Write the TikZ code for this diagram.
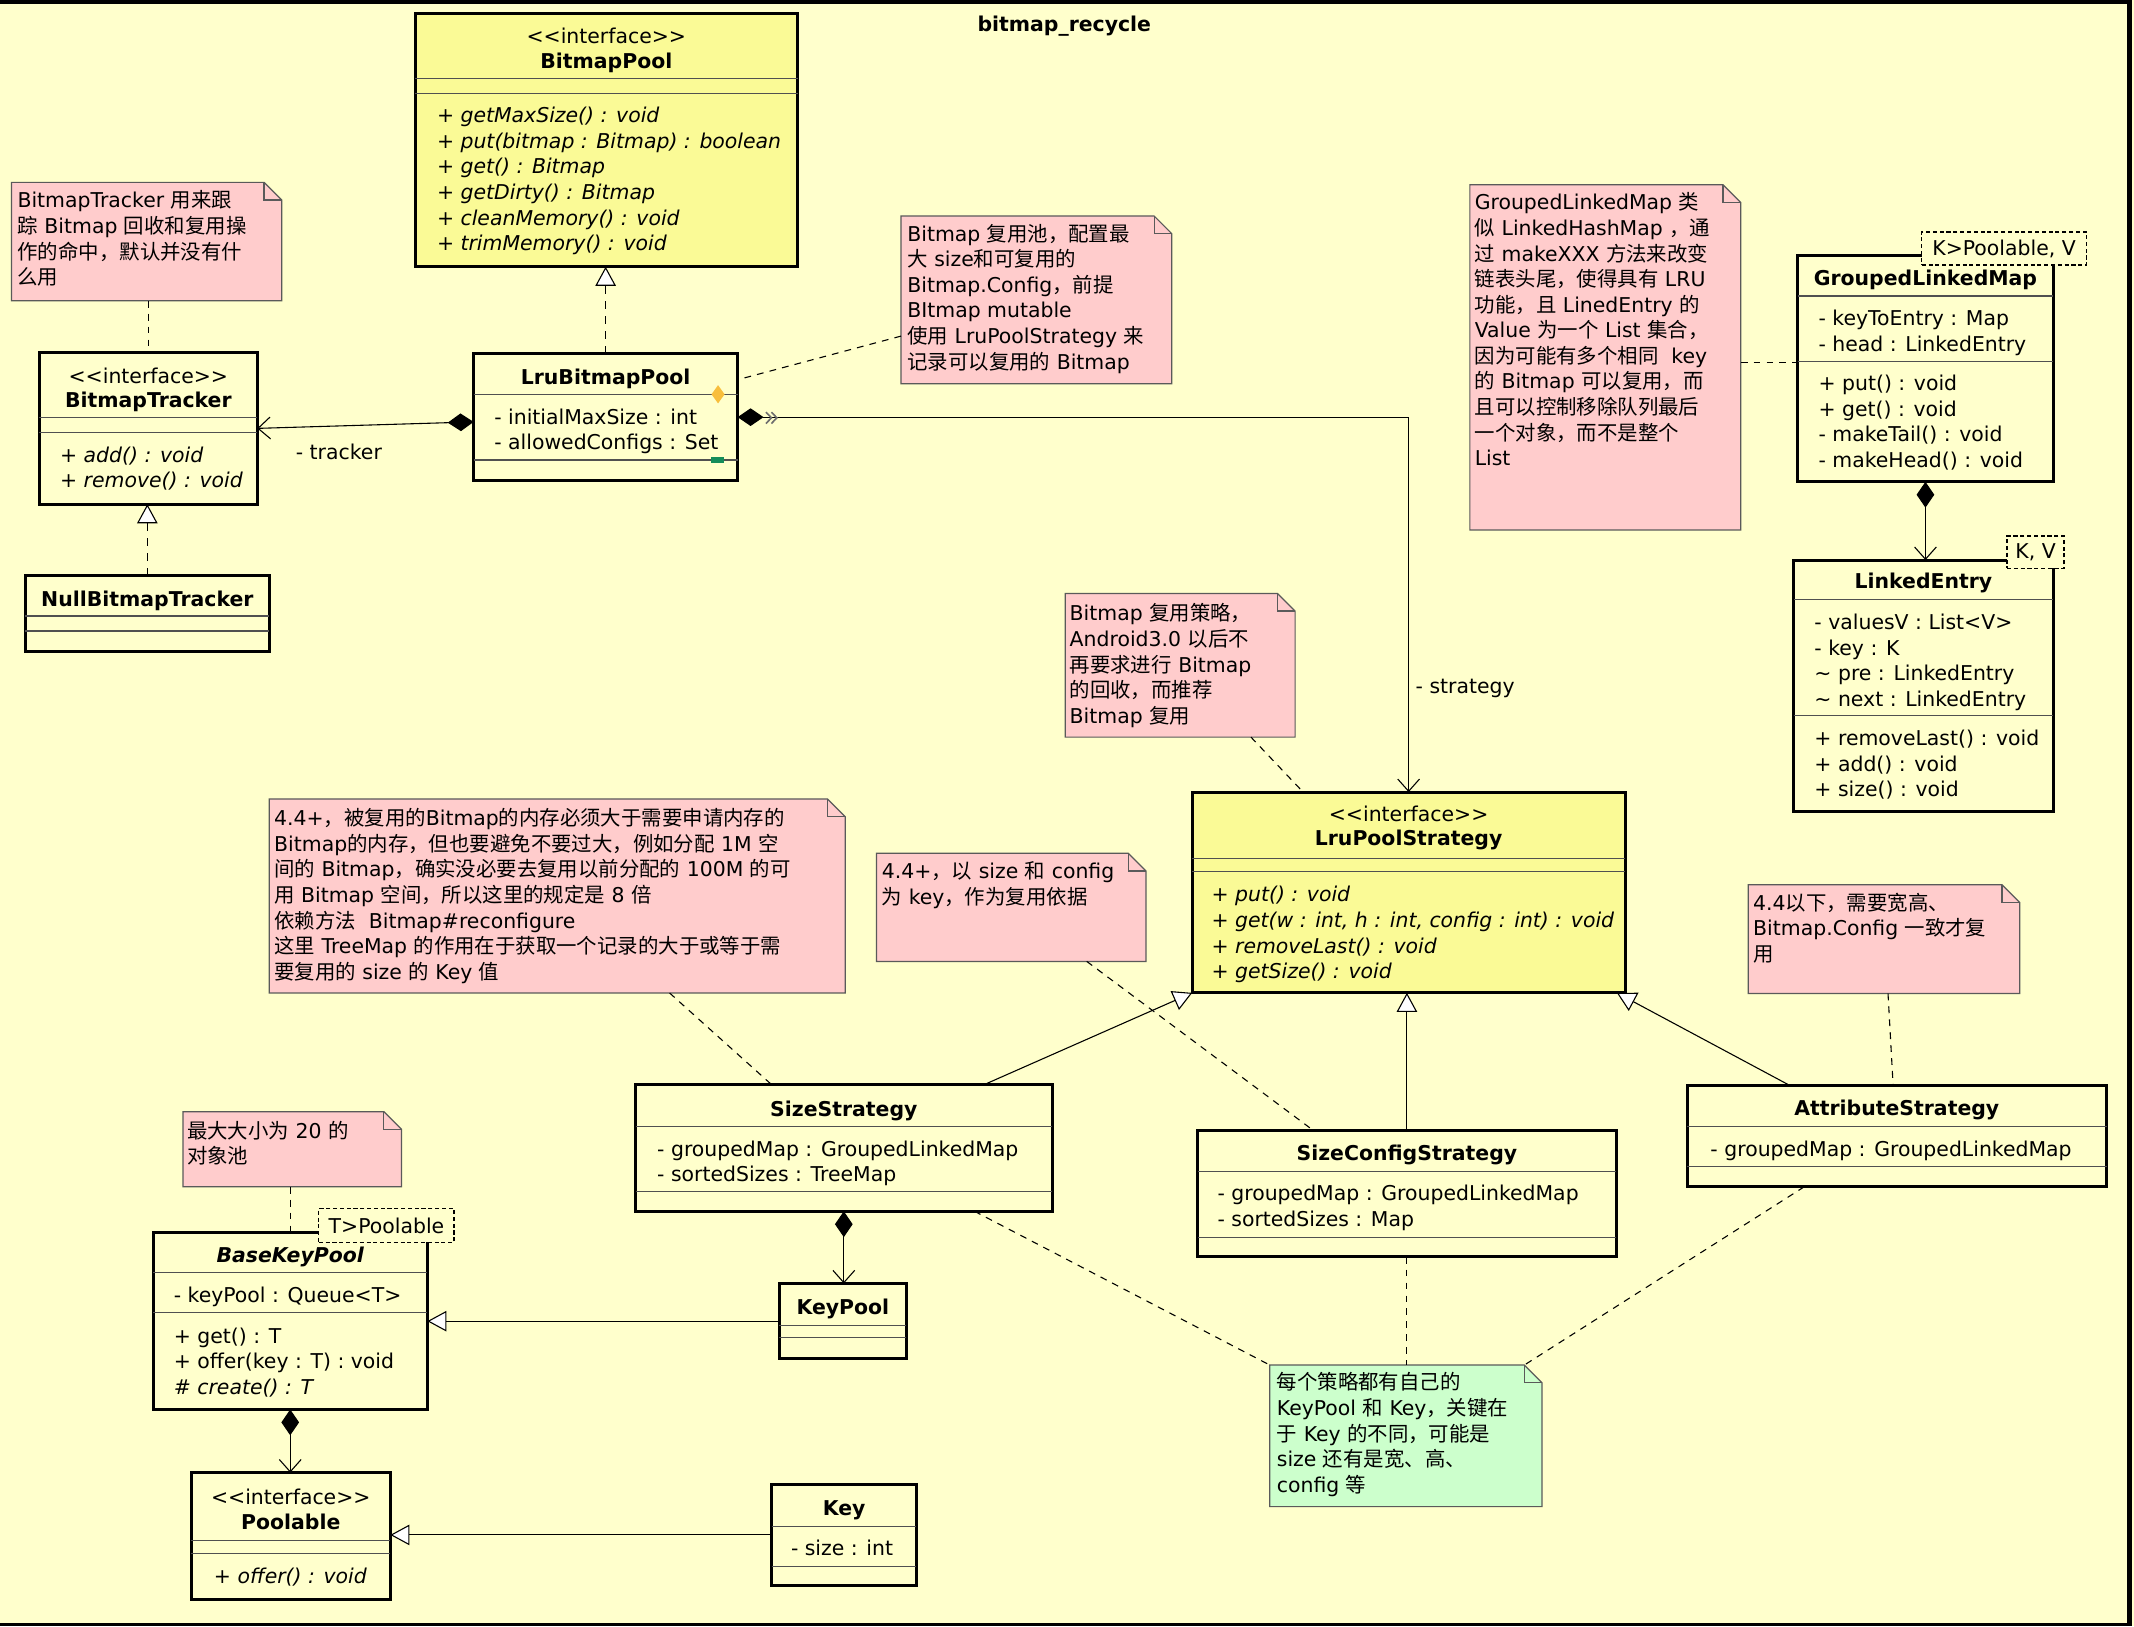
\documentclass[tikz,border=0pt]{standalone}
\usepackage{fontspec}
\setmainfont{DejaVu Sans}
\newfontfamily\zhfont{Noto Sans CJK SC}
\usetikzlibrary{arrows.meta,calc}
\definecolor{pagebg}{RGB}{255,255,204}
\definecolor{ifcfill}{RGB}{250,250,150}
\definecolor{notepink}{RGB}{255,204,204}
\definecolor{notegreen}{RGB}{204,255,204}
\definecolor{sepgray}{RGB}{80,80,80}
\definecolor{notegray}{RGB}{90,90,90}
\definecolor{chevgray}{RGB}{110,110,110}
\definecolor{orangemark}{RGB}{248,190,60}
\definecolor{greenmark}{RGB}{20,140,90}
\newcommand\zh[1]{{\zhfont #1}}
\newcommand\fs{\fontsize{15}{18.8}\selectfont}
\newcommand\sst{\rule{0pt}{14pt}}
\newcommand\ifc{\mbox{<}\mbox{<}interface\mbox{>}\mbox{>}}
\newcommand\umlclass[6]{\node[#2, minimum width={#5-#3}, minimum height={#6-#4}] (#1) at (#3,#4) {};}
\newcommand\umlnote[6]{%
  \node[notebody, minimum width={#5-#3}, minimum height={#6-#4}] (#1) at (#3,#4) {};
  \draw[draw=notegray, line width=0.9pt, fill=#2] (#1.north west) -- ([xshift=-13pt]#1.north east) -- ([yshift=-13pt]#1.north east) -- (#1.south east) -- (#1.south west) -- cycle;
  \draw[draw=notegray, line width=0.9pt] ([xshift=-13pt]#1.north east) -- ([xshift=-13pt,yshift=-13pt]#1.north east) -- ([yshift=-13pt]#1.north east);}
\newcommand\seps[2]{\draw[sep] (#1.west |- 0,#2) -- (#1.east |- 0,#2);}
\begin{document}
\begin{tikzpicture}[x=1pt,y=-1pt,
  clsbox/.style={draw=black, line width=2.2pt, fill=pagebg, rectangle, inner sep=0pt, outer sep=0pt, anchor=north west},
  ifcbox/.style={clsbox, fill=ifcfill},
  notebody/.style={rectangle, inner sep=0pt, outer sep=0pt, anchor=north west},
  txt/.style={inner sep=0pt, anchor=north west, align=left, font=\fs},
  itxt/.style={txt, font=\fs\itshape},
  ctxt/.style={inner sep=0pt, anchor=base, font=\fs},
  btxt/.style={inner sep=0pt, anchor=base, font=\fs\bfseries},
  sep/.style={draw=sepgray, line width=0.8pt},
  link/.style={line width=0.8pt, dash pattern=on 5pt off 4.5pt},
  real/.style={line width=0.8pt, dash pattern=on 6pt off 5pt, -{Triangle[length=14pt,width=15pt,fill=white]}},
  gen/.style={line width=0.8pt, -{Triangle[length=14pt,width=15pt,fill=white]}},
  comp/.style={line width=0.8pt, {Diamond[length=19pt,width=13pt]}-{Straight Barb[length=9pt,width=16pt]}},
  tmpl/.style={draw=black, fill=pagebg, line width=0.9pt, dash pattern=on 3pt off 2pt, inner sep=0pt, outer sep=0pt, anchor=north west, font=\fs}
]
\useasboundingbox (0,0) rectangle (1568,1195);
\fill[pagebg] (0,0) rectangle (1568,1195);
\fill[black] (0,0) rectangle (1566.6,3);
\fill[black] (1563,0) rectangle (1566.6,1195);
\fill[black] (0,1192.6) rectangle (1566.6,1195);

\node[btxt] (title) at (782,23) {bitmap\_recycle};

% ---------- notes ----------
\umlnote{n1}{notepink}{8.5}{134}{207}{221}
\umlnote{n2}{notepink}{662}{158.7}{861}{282}
\umlnote{n3}{notepink}{1080}{135.7}{1279}{389.4}
\umlnote{n4}{notepink}{782.7}{436}{951.6}{541.6}
\umlnote{n5}{notepink}{197.8}{587}{621}{729.6}
\umlnote{n6}{notepink}{644}{627}{842}{706.4}
\umlnote{n7}{notepink}{1284.5}{650}{1484}{730}
\umlnote{ng}{notegreen}{933}{1003}{1133}{1107}
\umlnote{n8}{notepink}{134.5}{816.8}{295}{872}

\node[txt] at (12.7,138.5) {\sst BitmapTracker \zh{用来跟}\\
\zh{踪} Bitmap \zh{回收和复用操}\\
\zh{作的命中，默认并没有什}\\
\zh{么用}};
\node[txt] at (666.5,163) {\sst Bitmap \zh{复用池，配置最}\\
\zh{大} size\zh{和可复用的}\\
Bitmap.Config\zh{，前提}\\
BItmap mutable\\
\zh{使用} LruPoolStrategy \zh{来}\\
\zh{记录可以复用的} Bitmap};
\node[txt] at (1083.4,140) {\sst GroupedLinkedMap \zh{类}\\
\zh{似} LinkedHashMap \zh{，通}\\
\zh{过} makeXXX \zh{方法来改变}\\
\zh{链表头尾，使得具有} LRU\\
\zh{功能，且} LinedEntry \zh{的}\\
Value \zh{为一个} List \zh{集合，}\\
\zh{因为可能有多个相同}\ \ key\\
\zh{的} Bitmap \zh{可以复用，而}\\
\zh{且可以控制移除队列最后}\\
\zh{一个对象，而不是整个}\\
List};
\node[txt] at (785.8,442) {\sst Bitmap \zh{复用策略，}\\
Android3.0 \zh{以后不}\\
\zh{再要求进行} Bitmap\\
\zh{的回收，而推荐}\\
Bitmap \zh{复用}};
\node[txt] at (201.3,592.5) {\sst 4.4+\zh{，被复用的}Bitmap\zh{的内存必须大于需要申请内存的}\\
Bitmap\zh{的内存，但也要避免不要过大，例如分配} 1M \zh{空}\\
\zh{间的} Bitmap\zh{，确实没必要去复用以前分配的} 100M \zh{的可}\\
\zh{用} Bitmap \zh{空间，所以这里的规定是} 8 \zh{倍}\\
\zh{依赖方法}\ \ Bitmap\#reconfigure\\
\zh{这里} TreeMap \zh{的作用在于获取一个记录的大于或等于需}\\
\zh{要复用的} size \zh{的} Key \zh{值}};
\node[txt] at (647.8,631.5) {\sst 4.4+\zh{，以} size \zh{和} config\\
\zh{为} key\zh{，作为复用依据}};
\node[txt] at (1288,654.5) {\sst 4.4\zh{以下，需要宽高、}\\
Bitmap.Config \zh{一致才复}\\
\zh{用}};
\node[txt] at (938,1007) {\sst \zh{每个策略都有自己的}\\
KeyPool \zh{和} Key\zh{，关键在}\\
\zh{于} Key \zh{的不同，可能是}\\
size \zh{还有是宽、高、}\\
config \zh{等}};
\node[txt] at (137.3,822) {\sst \zh{最大大小为} 20 \zh{的}\\
\zh{对象池}};

% ---------- classes ----------
\umlclass{bp}{ifcbox}{305}{10}{586}{196}
\umlclass{bt}{clsbox}{29}{259}{189}{370.5}
\umlclass{nbt}{clsbox}{18.5}{423}{198}{479}
\umlclass{lru}{clsbox}{348}{260}{542}{353}
\umlclass{glm}{clsbox}{1321}{188}{1508.5}{354}
\umlclass{le}{clsbox}{1318}{411.5}{1508.5}{596}
\umlclass{lps}{ifcbox}{876}{582}{1194}{729.5}
\umlclass{ss}{clsbox}{467}{797}{773}{890}
\umlclass{scs}{clsbox}{880}{830.6}{1187.5}{923.4}
\umlclass{as}{clsbox}{1239.6}{797.5}{1547.8}{872}
\umlclass{bkp}{clsbox}{112.5}{905.6}{314}{1035.6}
\umlclass{kp}{clsbox}{572.6}{943}{666}{998.5}
\umlclass{pool}{clsbox}{140.5}{1082}{286.8}{1175.4}
\umlclass{key}{clsbox}{567}{1091}{673.4}{1164.6}

\seps{bp}{58}\seps{bp}{68.6}
\seps{bt}{307}\seps{bt}{318}
\seps{nbt}{452.6}\seps{nbt}{463.6}
\seps{lru}{289.7}\seps{lru}{338}
\seps{glm}{217.5}\seps{glm}{265.7}
\seps{le}{440.6}\seps{le}{526}
\seps{lps}{630.7}\seps{lps}{640.3}
\seps{ss}{827.4}\seps{ss}{875.7}
\seps{scs}{860.5}\seps{scs}{909}
\seps{as}{827.4}\seps{as}{857}
\seps{bkp}{934.8}\seps{bkp}{964.5}
\seps{kp}{973.8}\seps{kp}{983}
\seps{pool}{1131.6}\seps{pool}{1141.4}
\seps{key}{1121.8}\seps{key}{1151}

% class headers
\node[ctxt] at (bp.center |- 0,32) {\ifc};
\node[btxt] at (bp.center |- 0,50) {BitmapPool};
\node[ctxt] at (bt.center |- 0,281.5) {\ifc};
\node[btxt] at (bt.center |- 0,299.5) {BitmapTracker};
\node[btxt] at (nbt.center |- 0,445.5) {NullBitmapTracker};
\node[btxt] at (lru.center |- 0,282.5) {LruBitmapPool};
\node[btxt] at (glm.center |- 0,209.5) {GroupedLinkedMap};
\node[btxt] at (le.center |- 0,432.5) {LinkedEntry};
\node[ctxt] at (lps.center |- 0,603.5) {\ifc};
\node[btxt] at (lps.center |- 0,621.5) {LruPoolStrategy};
\node[btxt] at (ss.center |- 0,820) {SizeStrategy};
\node[btxt] at (scs.center |- 0,852.5) {SizeConfigStrategy};
\node[btxt] at (as.center |- 0,819.5) {AttributeStrategy};
\node[btxt, font=\fs\bfseries\itshape] at (bkp.center |- 0,927.5) {BaseKeyPool};
\node[btxt] at (kp.center |- 0,965.5) {KeyPool};
\node[ctxt] at (pool.center |- 0,1105.3) {\ifc};
\node[btxt] at (pool.center |- 0,1124) {Poolable};
\node[btxt] at (key.center |- 0,1113.3) {Key};

% members
\node[itxt] at (320.9,76) {\sst + getMaxSize() : void\\
+ put(bitmap : Bitmap) : boolean\\
+ get() : Bitmap\\
+ getDirty() : Bitmap\\
+ cleanMemory() : void\\
+ trimMemory() : void};
\node[itxt] at (44,325.5) {\sst + add() : void\\+ remove() : void};
\node[txt] at (363,297.5) {\sst - initialMaxSize : int\\- allowedConfigs : Set};
\node[txt] at (1336,225) {\sst - keyToEntry : Map\\- head : LinkedEntry};
\node[txt] at (1336,272.8) {\sst + put() : void\\+ get() : void\\- makeTail() : void\\- makeHead() : void};
\node[txt] at (1333,448.4) {\sst - valuesV : List<V>\\- key : K\\\textasciitilde{} pre : LinkedEntry\\\textasciitilde{} next : LinkedEntry};
\node[txt] at (1333,533.5) {\sst + removeLast() : void\\+ add() : void\\+ size() : void};
\node[itxt] at (890,648.5) {\sst + put() : void\\
+ get(w : int, h : int, config : int) : void\\
+ removeLast() : void\\
+ getSize() : void};
\node[txt] at (482.7,835.3) {\sst - groupedMap : GroupedLinkedMap\\- sortedSizes : TreeMap};
\node[txt] at (894.4,868) {\sst - groupedMap : GroupedLinkedMap\\- sortedSizes : Map};
\node[txt] at (1256.6,835.3) {\sst - groupedMap : GroupedLinkedMap};
\node[txt] at (127.5,942.8) {\sst - keyPool : Queue<T>};
\node[txt] at (127.5,972.7) {\sst + get() : T\\+ offer(key : T) : void\\\textit{\# create() : T}};
\node[itxt] at (157,1149) {\sst + offer() : void};
\node[txt] at (581,1129) {\sst - size : int};

% markers on LruBitmapPool
\fill[orangemark] (527.6,283) -- (532.4,289.7) -- (527.6,296.4) -- (522.8,289.7) -- cycle;
\fill[greenmark] (522.5,336) rectangle (532,340.5);

% ---------- connectors ----------
\draw[link] (bt.north |- n1.south) -- (bt.north);
\draw[real] (nbt.north) -- (nbt.north |- bt.south);
\draw[real] (lru.north) -- (lru.north |- bp.south);
\draw[comp] ([yshift=-3.5pt]lru.west) -- (bt.east);
\node[ctxt] (lbltracker) at (249,337.5) {- tracker};
\draw[comp] (lru.east) -| (lps.north);
\draw[chevgray, line width=1.2pt] (562.8,302.8) -- (566.8,307) -- (562.8,311.2);
\draw[chevgray, line width=1.2pt] (566.8,302.8) -- (570.8,307) -- (566.8,311.2);
\node[inner sep=0pt, anchor=west, font=\fs] (lblstrategy) at (1040,505.6) {- strategy};
\draw[link] ([yshift=-26.6pt]n2.west) -- ([yshift=-19pt]lru.north east);
\draw[link] ([yshift=-3.5pt]n3.east) -- ([yshift=-3.5pt]n3.east -| glm.west);
\draw[comp] (glm.south) -- (glm.south |- le.north);
\draw[link] ([xshift=52pt]n4.south) -- ([xshift=-77.5pt]lps.north);
\draw[link] ([xshift=82.6pt]n5.south) -- ([xshift=-53pt]ss.north);
\draw[link] ([xshift=55.5pt]n6.south) -- ([xshift=-68.75pt]scs.north);
\draw[link] ([xshift=3pt]n7.south) -- ([xshift=-2.7pt]as.north);
\draw[gen] ([xshift=103pt]ss.north) -- (lps.south west);
\draw[gen] (scs.north) -- (scs.north |- lps.south);
\draw[gen] ([xshift=-78.7pt]as.north) -- ([xshift=-6pt]lps.south east);
\draw[gen] (kp.west) -- (kp.west -| bkp.east);
\draw[comp] (ss.south) -- (ss.south |- kp.north);
\draw[comp] (bkp.south) -- (bkp.south |- pool.north);
\draw[link] (bkp.north |- n8.south) -- (bkp.north);
\draw[gen] (key.west) -- (key.west -| pool.east);
\draw[link] ([xshift=96pt]ss.south) -- (ng.north west);
\draw[link] (scs.south) -- (scs.south |- ng.north);
\draw[link] ([xshift=-68pt]as.south) -- ([xshift=-13pt]ng.north east);

% template parameter boxes
\node[tmpl, minimum width=121, minimum height=24.2] (glmT) at (1412,170.5) {K>Poolable, V};
\node[tmpl, minimum width=41.9, minimum height=23.9] (leT) at (1474.7,393.8) {K, V};
\node[tmpl, minimum width=99.3, minimum height=24.8] (bkpT) at (234.3,888) {T>Poolable};
\end{tikzpicture}
\end{document}
